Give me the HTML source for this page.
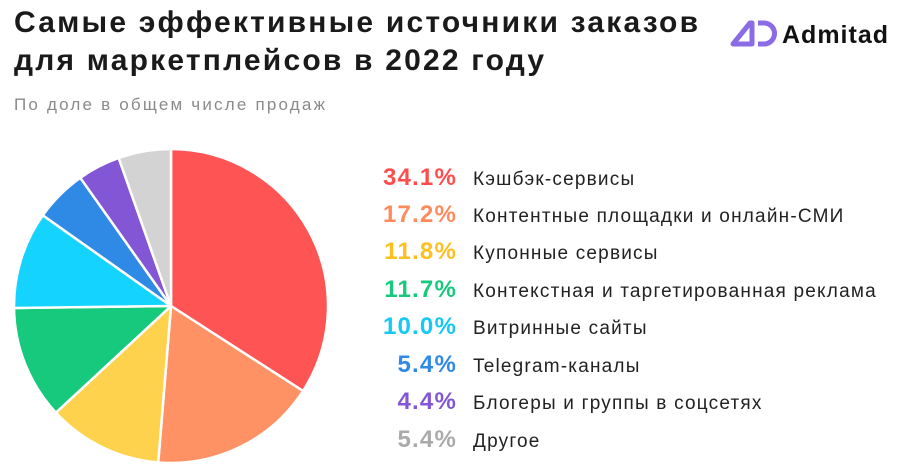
<!DOCTYPE html>
<html><head><meta charset="utf-8"><style>
body{margin:0;width:900px;height:472px;background:#fff;font-family:"Liberation Sans","DejaVu Sans",sans-serif;position:relative;overflow:hidden}
.t{position:absolute;left:14px;top:4px;font-size:30px;font-weight:bold;color:#1a1a1a;line-height:38px;letter-spacing:2.2px}
.s{position:absolute;left:14px;top:95px;font-size:17px;color:#8a8a8a;letter-spacing:2.2px}
.row{position:absolute;left:340px;height:30px;line-height:30px;font-size:19px;color:#222;white-space:nowrap;letter-spacing:1.2px}
.row b{display:inline-block;width:117px;text-align:right;margin-right:16px;font-size:24px;letter-spacing:1.2px}
.logo{position:absolute;left:730px;top:18px}
</style></head><body>
<div class="t">Самые эффективные источники заказов<br>для маркетплейсов в 2022 году</div>
<div class="s">По доле в общем числе продаж</div>
<div class="logo"><svg width="170" height="30"><path d="M3 26 L20 5 L22 5 L22 26 Z" fill="none" stroke="#8b6be6" stroke-width="5" stroke-linejoin="round"/><path d="M28 5 h6 a10.5 10.5 0 0 1 0 21 h-6" fill="none" stroke="#8b6be6" stroke-width="5"/><text x="52" y="25" font-size="25" font-weight="bold" fill="#111" letter-spacing="1" font-family="Liberation Sans,sans-serif">Admitad</text></svg></div>
<svg style="position:absolute;left:0;top:0" width="340" height="472">
<g stroke="#fff" stroke-width="2.5" stroke-linejoin="round">
<path d="M171 306 L171 149 A157 157 0 0 1 303 391 Z" fill="#ff5454"/>
<path d="M171 306 L303 391 A157 157 0 0 1 158.2 462.5 Z" fill="#ff9264"/>
<path d="M171 306 L158.2 462.5 A157 157 0 0 1 55.9 412.7 Z" fill="#ffd24d"/>
<path d="M171 306 L55.9 412.7 A157 157 0 0 1 14 308 Z" fill="#17c97c"/>
<path d="M171 306 L14 308 A157 157 0 0 1 42.8 215.3 Z" fill="#15d3ff"/>
<path d="M171 306 L42.8 215.3 A157 157 0 0 1 80.3 177.8 Z" fill="#2f8ae6"/>
<path d="M171 306 L80.3 177.8 A157 157 0 0 1 118.7 158 Z" fill="#8356d6"/>
<path d="M171 306 L118.7 158 A157 157 0 0 1 171 149 Z" fill="#d3d3d3"/>
</g></svg>
<div class="row" style="top:163px"><b style="color:#ff4d4d">34.1%</b>Кэшбэк-сервисы</div>
<div class="row" style="top:200px"><b style="color:#ff8a5c">17.2%</b>Контентные площадки и онлайн-СМИ</div>
<div class="row" style="top:237px"><b style="color:#ffbf1f">11.8%</b>Купонные сервисы</div>
<div class="row" style="top:275px"><b style="color:#17c97c">11.7%</b>Контекстная и таргетированная реклама</div>
<div class="row" style="top:312px"><b style="color:#15c8f5">10.0%</b>Витринные сайты</div>
<div class="row" style="top:350px"><b style="color:#2f8ae6">5.4%</b>Telegram-каналы</div>
<div class="row" style="top:387px"><b style="color:#8356d6">4.4%</b>Блогеры и группы в соцсетях</div>
<div class="row" style="top:425px"><b style="color:#aaa">5.4%</b>Другое</div>
</body></html>
